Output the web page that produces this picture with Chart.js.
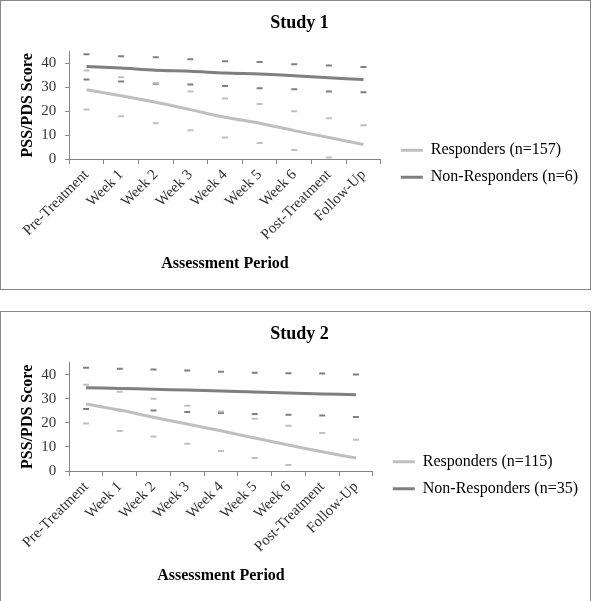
<!DOCTYPE html>
<html>
<head>
<meta charset="utf-8">
<script src="https://cdn.jsdelivr.net/npm/chart.js@4/dist/chart.umd.min.js"></script>
<style>
  html, body { margin: 0; padding: 0; background: #fff; }
  .box { position: absolute; left: 0; width: 589px; border: 1px solid #888; background: #fff; }
  #box1 { top: 0; height: 288px; }
  #box2 { top: 311px; height: 289px; }
</style>
</head>
<body>
<div class="box" id="box1"><canvas id="study1" width="589" height="288"></canvas></div>
<div class="box" id="box2"><canvas id="study2" width="589" height="289"></canvas></div>
<script>
// Assessment periods (x axis)
const periods = ['Pre-Treatment', 'Week 1', 'Week 2', 'Week 3', 'Week 4',
  'Week 5', 'Week 6', 'Post-Treatment', 'Follow-Up'];
const yTicks = [0, 10, 20, 30, 40];

// Study 1 - means and error bar ends
const s1Resp   = [29.0, 26.5, 23.8, 20.7, 17.5, 15.0, 11.9, 9.0, 6.1];
const s1RespHi = [37.1, 34.3, 31.8, 28.3, 25.4, 23.1, 20.0, 17.1, 14.2];
const s1RespLo = [20.8, 17.9, 15.0, 12.1, 9.0, 6.7, 3.8, 0.7, null];
const s1Non    = [38.8, 38.1, 37.2, 36.8, 36.0, 35.6, 34.9, 34.0, 33.3];
const s1NonHi  = [43.9, 43.1, 42.6, 41.8, 41.0, 40.6, 39.7, 39.2, 38.5];
const s1NonLo  = [33.3, 32.5, 31.5, 31.2, 30.6, 29.6, 29.2, 28.3, 28.0];

// Study 2
const s2Resp   = [27.8, 25.3, 22.3, 19.5, 16.7, 13.7, 10.8, 8.0, 5.4];
const s2RespHi = [35.8, 32.9, 30.0, 27.1, 24.7, 21.7, 18.8, 15.8, 13.0];
const s2RespLo = [19.7, 16.6, 14.3, 11.3, 8.3, 5.4, 2.5, null, null];
const s2Non    = [34.6, 34.3, 33.9, 33.6, 33.2, 32.8, 32.4, 32.0, 31.7];
const s2NonHi  = [42.9, 42.5, 42.1, 41.7, 41.2, 40.8, 40.6, 40.5, 40.1];
const s2NonLo  = [25.7, 25.2, 25.1, 24.5, 24.1, 23.7, 23.4, 23.0, 22.4];

const LIGHT = '#bfbfbf';
const DARK = '#7f7f7f';
const AXIS = '#868686';
const SERIF = "'Liberation Serif', 'Times New Roman', serif";

function dashSet(data, color) {
  return {
    label: '',
    data: data,
    showLine: false,
    pointStyle: 'line',
    pointRadius: 3,
    pointBorderWidth: 2,
    pointBorderColor: color,
    borderColor: color,
    backgroundColor: color
  };
}

function meanSet(label, data, color) {
  return {
    label: label,
    data: data,
    borderColor: color,
    backgroundColor: color,
    borderWidth: 3,
    pointRadius: 0,
    tension: 0.3,
    fill: false
  };
}

function makeChart(id, title, respLabel, resp, respHi, respLo, nonLabel, non, nonHi, nonLo) {
  const ctx = document.getElementById(id).getContext('2d');
  return new Chart(ctx, {
    type: 'line',
    data: {
      labels: periods,
      datasets: [
        meanSet(respLabel, resp, LIGHT),
        meanSet(nonLabel, non, DARK),
        dashSet(respHi, LIGHT),
        dashSet(respLo, LIGHT),
        dashSet(nonHi, DARK),
        dashSet(nonLo, DARK)
      ]
    },
    options: {
      responsive: false,
      animation: false,
      layout: { padding: { left: 10, right: 2, top: 0, bottom: 12 } },
      scales: {
        x: {
          offset: true,
          // rotated labels fit inside the canvas already
          afterFit: s => { s.paddingLeft = 0; s.paddingRight = 0; },
          grid: { display: true, drawOnChartArea: false, offset: true, tickLength: 5, color: AXIS },
          border: { color: AXIS, width: 1 },
          ticks: {
            minRotation: 45, maxRotation: 45, padding: 2, color: '#333',
            font: { family: SERIF, size: 15 }
          },
          title: {
            display: true, text: 'Assessment Period', color: '#000',
            font: { family: SERIF, size: 16, weight: 'bold' },
            padding: { top: 8, bottom: 4 }
          }
        },
        y: {
          min: 0, max: 45,
          afterBuildTicks: s => { s.ticks = yTicks.map(v => ({ value: v })); },
          grid: { display: true, drawOnChartArea: false, tickLength: 4, color: AXIS },
          border: { color: AXIS, width: 1 },
          ticks: { padding: 9, color: '#333', font: { family: SERIF, size: 15 } },
          title: {
            display: true, text: 'PSS/PDS Score', color: '#000',
            font: { family: SERIF, size: 16, weight: 'bold' },
            padding: { top: 7, bottom: -5 }
          }
        },
        // spacer between plot and legend
        gap: {
          type: 'linear', position: 'right', display: true,
          grid: { display: false }, border: { display: false }, ticks: { display: false },
          afterFit: s => { s.width = 9; }
        }
      },
      plugins: {
        title: {
          display: true, text: title, color: '#000',
          font: { family: SERIF, size: 18, weight: 'bold' },
          padding: { top: 12, bottom: 17 }
        },
        legend: {
          position: 'right',
          maxWidth: 240,
          title: { display: true, text: ' ', padding: { top: 35, bottom: 0 } },
          labels: {
            boxWidth: 22, boxHeight: 3, padding: 11, color: '#000',
            font: { family: SERIF, size: 16 },
            generateLabels: chart => Chart.defaults.plugins.legend.labels.generateLabels(chart)
              .filter(item => item.text)
              .map(item => Object.assign(item, { lineWidth: 0 }))
          }
        },
        tooltip: { enabled: false }
      }
    }
  });
}

makeChart('study1', 'Study 1', 'Responders (n=157)', s1Resp, s1RespHi, s1RespLo,
  'Non-Responders (n=6)', s1Non, s1NonHi, s1NonLo);
makeChart('study2', 'Study 2', 'Responders (n=115)', s2Resp, s2RespHi, s2RespLo,
  'Non-Responders (n=35)', s2Non, s2NonHi, s2NonLo);
</script>
</body>
</html>
